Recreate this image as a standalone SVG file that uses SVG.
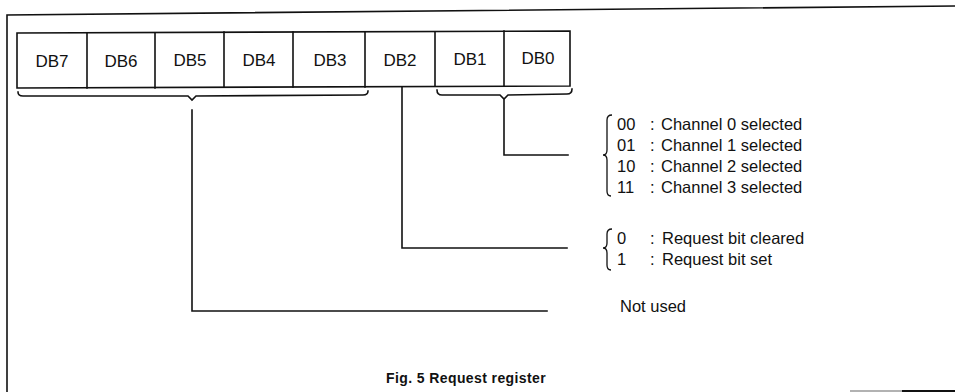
<svg xmlns="http://www.w3.org/2000/svg" width="955" height="392" viewBox="0 0 955 392">
<style>
.ln{fill:none;stroke:#111;stroke-width:1.6;stroke-linecap:square}
.br{fill:none;stroke:#111;stroke-width:1.3}
.box{fill:#fff;stroke:#111;stroke-width:1.6}
.lbl{font-family:"Liberation Sans",Arial,sans-serif;font-size:17px;fill:#111;text-anchor:middle}
.txt{font-family:"Liberation Sans",Arial,sans-serif;font-size:16.5px;fill:#111}
.cap{font-family:"Liberation Sans",Arial,sans-serif;font-size:14px;font-weight:bold;fill:#111;letter-spacing:0.4px}
</style>
<rect width="955" height="392" fill="#fff"/>
<g id="frame">
<path class="ln" d="M7,392 L7,15 L955,6"/>
<path d="M850,391 L902,391" stroke="#999" stroke-width="1.6"/>
<path d="M902,391 L955,391" stroke="#111" stroke-width="1.8"/>
</g>
<g id="register">
<path class="box" d="M17,33 L570,31 L570,86 L17,88 Z"/>
<path class="ln" d="M87,33V88M155,33V88M224,32V87M293,32V87M365,32V87M435,32V86M504,31V86"/>
<text class="lbl" x="52" y="67">DB7</text>
<text class="lbl" x="121" y="67">DB6</text>
<text class="lbl" x="190" y="66">DB5</text>
<text class="lbl" x="259" y="66">DB4</text>
<text class="lbl" x="330" y="66">DB3</text>
<text class="lbl" x="400" y="66">DB2</text>
<text class="lbl" x="470" y="65">DB1</text>
<text class="lbl" x="538" y="64">DB0</text>
</g>
<g id="connectors">
<path class="ln" d="M18,92 Q18,96 23,96 L188,96 L192,100 L196,96 L363,95 Q368,95 368,91"/>
<path class="ln" d="M437,90 Q437,95 442,95 L500,95 L504,99 L508,95 L567,94 Q572,94 572,89"/>
<path class="ln" d="M192,110 V311 H547"/>
<path class="ln" d="M402,87 V248 H567"/>
<path class="ln" d="M504,100 V155 H568"/>
</g>
<g id="channel-select">
<path class="br" d="M612,115 Q607,115 607,120 L607,150 Q607,155 603,155 Q607,155 607,160 L607,191 Q607,196 611,196"/>
<text class="txt" x="617" y="130">00</text><text class="txt" x="650" y="130">:</text><text class="txt" x="661" y="130">Channel 0 selected</text>
<text class="txt" x="617" y="151">01</text><text class="txt" x="650" y="151">:</text><text class="txt" x="661" y="151">Channel 1 selected</text>
<text class="txt" x="617" y="172">10</text><text class="txt" x="650" y="172">:</text><text class="txt" x="661" y="172">Channel 2 selected</text>
<text class="txt" x="617" y="193">11</text><text class="txt" x="650" y="193">:</text><text class="txt" x="661" y="193">Channel 3 selected</text>
</g>
<g id="request-bit">
<path class="br" d="M612,229 Q607,229 607,234 L607,243 Q607,248 603,248 Q607,248 607,253 L607,265 Q607,270 611,270"/>
<text class="txt" x="617" y="244">0</text><text class="txt" x="650" y="244">:</text><text class="txt" x="662" y="244">Request bit cleared</text>
<text class="txt" x="617" y="265">1</text><text class="txt" x="650" y="265">:</text><text class="txt" x="662" y="265">Request bit set</text>
</g>
<g id="not-used">
<text class="txt" x="620" y="312">Not used</text>
</g>
<text class="cap" x="386" y="383">Fig. 5  Request register</text>
</svg>
